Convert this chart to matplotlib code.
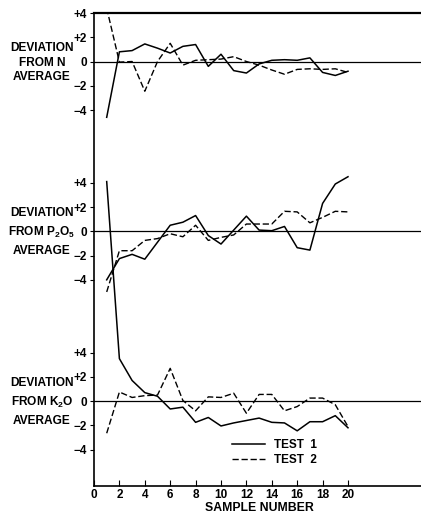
import numpy as np
import matplotlib.pyplot as plt
from matplotlib.lines import Line2D

plt.rcParams['font.family'] = ['Liberation Sans', 'DejaVu Sans']
plt.rcParams['font.weight'] = 'bold'
plt.rcParams['mathtext.fontset'] = 'custom'
plt.rcParams['mathtext.bf'] = 'Liberation Sans:bold'
plt.rcParams['mathtext.rm'] = 'Liberation Sans:bold'
plt.rcParams['mathtext.default'] = 'bf'

# sample numbers 1..20
samples = np.arange(1, 21)

# deviation from N average
n_test1 = [-4.6, 0.8, 0.9, 1.45, 1.1, 0.7, 1.25, 1.4, -0.4, 0.6,
           -0.75, -0.95, -0.2, 0.1, 0.15, 0.1, 0.3, -0.9, -1.15, -0.8]
n_test2 = [4.4, -0.05, 0.0, -2.45, 0.0, 1.5, -0.3, 0.1, 0.15, 0.2,
           0.4, 0.0, -0.3, -0.7, -1.05, -0.65, -0.6, -0.65, -0.6, -0.9]

# deviation from P2O5 average
p_test1 = [-4.0, -2.25, -1.9, -2.3, -0.9, 0.5, 0.75, 1.3, -0.35, -1.05,
           0.1, 1.25, 0.1, 0.05, 0.4, -1.35, -1.55, 2.3, 3.9, 4.5]
p_test2 = [-5.0, -1.6, -1.6, -0.75, -0.6, -0.2, -0.45, 0.5, -0.75, -0.5,
           -0.3, 0.6, 0.6, 0.6, 1.65, 1.6, 0.7, 1.15, 1.65, 1.6]

# deviation from K2O average
k_test1 = [18.1, 3.5, 1.7, 0.7, 0.4, -0.65, -0.5, -1.75, -1.35, -2.05,
           -1.8, -1.6, -1.4, -1.75, -1.8, -2.45, -1.7, -1.7, -1.2, -2.2]
k_test2 = [-2.65, 0.75, 0.3, 0.45, 0.5, 2.7, 0.05, -0.8, 0.35, 0.3,
           0.65, -1.0, 0.55, 0.55, -0.8, -0.45, 0.25, 0.25, -0.3, -2.1]

panel_names = ['FROM N', r'FROM P$_2$O$_5$', r'FROM K$_2$O']
panel_offsets = [28, 14, 0]
tick_values = [4, 2, 0, -2, -4]
tick_texts = ['+4', '+2', '0', '\u22122', '\u22124']
xtick_values = list(range(0, 21, 2))

W, H = 421, 515
fig = plt.figure(figsize=(W / 100, H / 100), dpi=100)
ax = fig.add_axes([94 / W, 1 - 486 / H, 1 - 94 / W, (486 - 13) / H])
ax.set_xlim(0, 327 / 12.7)
ax.set_ylim(-7, 32)

dash = (0, (4.5, 2))
series = [(n_test1, n_test2), (p_test1, p_test2), (k_test1, k_test2)]
for (t1, t2), off in zip(series, panel_offsets):
    ax.axhline(off, color='black', lw=0.9)
    ax.plot(samples, np.array(t1) + off, color='black', lw=1.1)
    ax.plot(samples, np.array(t2) + off, color='black', lw=1.0, linestyle=dash)

# y ticks, repeated for each panel
yt, yl = [], []
for off in panel_offsets:
    for v, t in zip(tick_values, tick_texts):
        yt.append(off + v)
        yl.append(t)
ax.set_yticks(yt)
ax.set_yticklabels(yl, fontsize=8.5, fontweight='bold')
ax.tick_params(axis='y', direction='out', length=3, width=0.8, pad=2)

ax.set_xticks(xtick_values)
ax.set_xticklabels([str(v) for v in xtick_values], fontsize=8.5, fontweight='bold')
ax.tick_params(axis='x', direction='in', length=4, width=0.8, pad=2)
ax.set_xlabel('SAMPLE NUMBER', fontsize=8.8, fontweight='bold')
ax.xaxis.set_label_coords(0.505, -0.034)

ax.spines['right'].set_visible(False)
ax.spines['top'].set_linewidth(1.6)
ax.spines['left'].set_linewidth(1.2)
ax.spines['bottom'].set_linewidth(1.2)

# panel labels on the left
label_rows = [(48, 63, 77), (213, 232, 251), (383, 402, 421)]
for name, (y1, y2, y3) in zip(panel_names, label_rows):
    for txt, yp in [('DEVIATION', y1), (name, y2), ('AVERAGE', y3)]:
        fig.text(42 / W, 1 - yp / H, txt, ha='center', va='center',
                 fontsize=8.6, fontweight='bold')

handles = [Line2D([], [], color='black', lw=1.1),
           Line2D([], [], color='black', lw=1.0, linestyle=dash)]
ax.legend(handles, ['TEST  1', 'TEST  2'], loc='upper left',
          bbox_to_anchor=((232 - 94) / 327, (486 - 439) / 473),
          frameon=False, handlelength=2.8, handletextpad=0.75,
          borderpad=0, borderaxespad=0, labelspacing=0.25,
          prop={'weight': 'bold', 'size': 8.5})

fig.savefig('out.png', dpi=100)
